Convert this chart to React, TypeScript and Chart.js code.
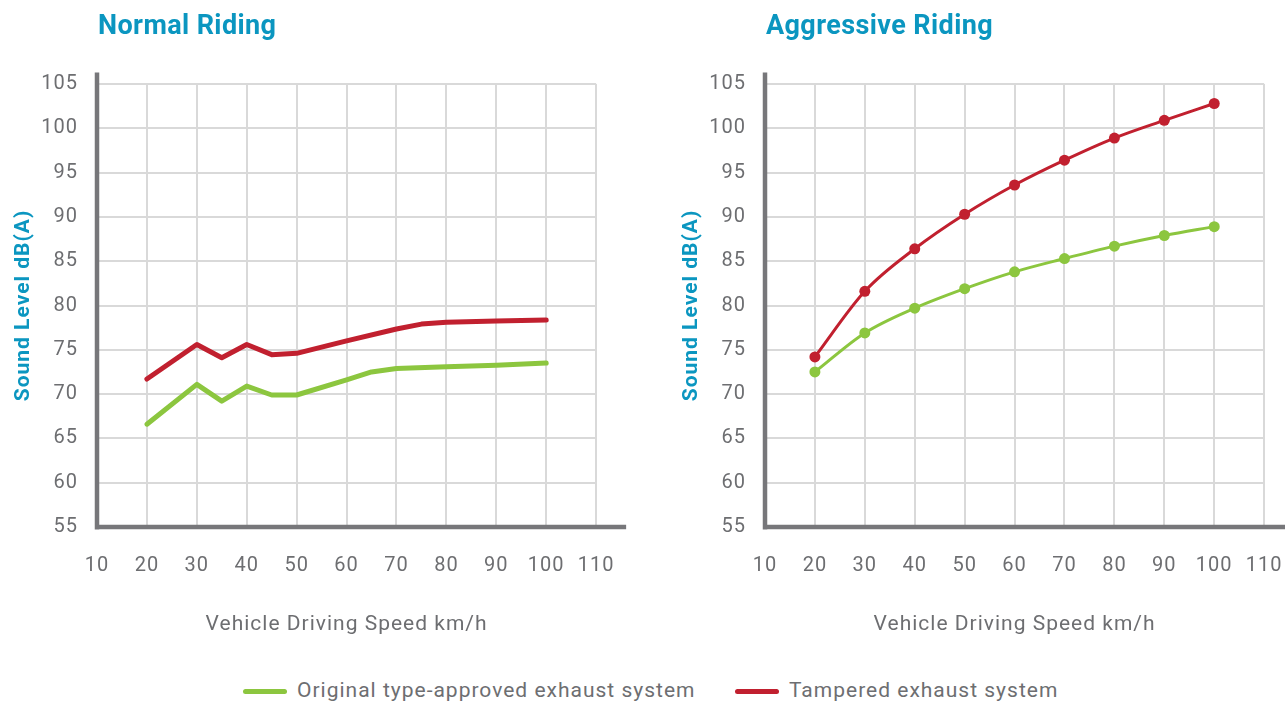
import React, { useEffect, useRef } from "react";
import { Chart, registerables } from "chart.js";

Chart.register(...registerables);

// ---- data ----
const speedMin = 10;
const speedMax = 110;
const speedStep = 10;
const levelMin = 55;
const levelMax = 105;
const levelStep = 5;

const seriesLabels = ["Original type-approved exhaust system", "Tampered exhaust system"];
const chartTitles = ["Normal Riding", "Aggressive Riding"];
const xAxisTitle = "Vehicle Driving Speed km/h";
const yAxisTitle = "Sound Level dB(A)";

const normalOriginalSpeeds = [20, 30, 35, 40, 45, 50, 60, 65, 70, 80, 90, 100];
const normalOriginalLevels = [66.6, 71.1, 69.2, 70.9, 69.9, 69.9, 71.6, 72.5, 72.9, 73.1, 73.25, 73.5];
const normalTamperedSpeeds = [20, 30, 35, 40, 45, 50, 60, 70, 75, 80, 90, 100];
const normalTamperedLevels = [71.7, 75.6, 74.1, 75.6, 74.45, 74.6, 76.0, 77.35, 77.9, 78.1, 78.25, 78.35];

const aggressiveSpeeds = [20, 30, 40, 50, 60, 70, 80, 90, 100];
const aggressiveOriginalLevels = [72.5, 76.9, 79.7, 81.9, 83.8, 85.3, 86.7, 87.9, 88.9];
const aggressiveTamperedLevels = [74.2, 81.6, 86.4, 90.3, 93.6, 96.4, 98.9, 100.9, 102.8];

// ---- styles ----
const GREEN = "#8cc63f";
const RED = "#c1202f";
const BLUE = "#0b96c0";
const GRAY = "#6d6e71";
const AXIS = "#77777a";
const GRID = "#d9d9d9";
const FONT = "Roboto, 'Open Sans', sans-serif";

const toPoints = (xs: number[], ys: number[]) => xs.map((x, i) => ({ x, y: ys[i] }));

const axisLinePlugin = {
  id: "axisLines",
  beforeDraw(chart: any) {
    (chart.ctx as any).letterSpacing = "1px";
  },
  beforeDatasetsDraw(chart: any) {
    const { ctx, chartArea } = chart;
    ctx.save();
    ctx.strokeStyle = AXIS;
    ctx.lineWidth = 4.5;
    ctx.lineCap = "butt";
    ctx.beginPath();
    ctx.moveTo(chartArea.left, chartArea.top - 11.5);
    ctx.lineTo(chartArea.left, chartArea.bottom + 2.5);
    ctx.moveTo(chartArea.left - 2.2, chartArea.bottom);
    ctx.lineTo(chartArea.right + 30, chartArea.bottom);
    ctx.stroke();
    ctx.restore();
  },
  afterDraw(chart: any) {
    (chart.ctx as any).letterSpacing = "0px";
  },
};

function makeOptions() {
  return {
    responsive: false,
    animation: false as const,
    layout: { padding: { top: 84, left: 0, right: 43, bottom: 13 } },
    plugins: { legend: { display: false }, tooltip: { enabled: false } },
    scales: {
      x: {
        type: "linear" as const,
        min: speedMin,
        max: speedMax,
        ticks: { stepSize: speedStep, padding: 27, color: GRAY, font: { family: FONT, size: 20 } },
        grid: { color: GRID, lineWidth: 2, drawTicks: false },
        border: { display: false },
        title: {
          display: true,
          text: xAxisTitle,
          color: GRAY,
          font: { family: FONT, size: 21 },
          padding: { top: 0, bottom: 10 },
        },
        afterFit: (s: any) => {
          s.height = 120;
        },
      },
      y: {
        type: "linear" as const,
        min: levelMin,
        max: levelMax,
        ticks: { stepSize: levelStep, padding: 19, color: GRAY, font: { family: FONT, size: 20 } },
        grid: { color: GRID, lineWidth: 2, drawTicks: false },
        border: { display: false },
        title: {
          display: true,
          text: yAxisTitle,
          color: BLUE,
          font: { family: FONT, size: 21, weight: "bold" as const },
          padding: { top: 11, bottom: 0 },
        },
        afterFit: (s: any) => {
          s.width = 97;
        },
      },
    },
  };
}

function ChartBox({ config, left }: { config: any; left: number }) {
  const ref = useRef<HTMLCanvasElement | null>(null);
  useEffect(() => {
    if (!ref.current) return;
    const chart = new Chart(ref.current, config);
    return () => chart.destroy();
  }, []);
  return (
    <canvas
      ref={ref}
      width={640}
      height={660}
      style={{ position: "absolute", left, top: 0, width: 640, height: 660 }}
    />
  );
}

const normalConfig = {
  type: "line",
  data: {
    datasets: [
      {
        label: seriesLabels[0],
        data: toPoints(normalOriginalSpeeds, normalOriginalLevels),
        borderColor: GREEN,
        borderWidth: 5,
        pointRadius: 0,
        tension: 0,
        borderJoinStyle: "round",
        borderCapStyle: "round",
      },
      {
        label: seriesLabels[1],
        data: toPoints(normalTamperedSpeeds, normalTamperedLevels),
        borderColor: RED,
        borderWidth: 5,
        pointRadius: 0,
        tension: 0,
        borderJoinStyle: "round",
        borderCapStyle: "round",
      },
    ],
  },
  options: makeOptions(),
  plugins: [axisLinePlugin],
};

const aggressiveConfig = {
  type: "line",
  data: {
    datasets: [
      {
        label: seriesLabels[0],
        data: toPoints(aggressiveSpeeds, aggressiveOriginalLevels),
        borderColor: GREEN,
        backgroundColor: GREEN,
        borderWidth: 3,
        pointRadius: 5.5,
        pointBorderWidth: 0,
        pointBackgroundColor: GREEN,
        cubicInterpolationMode: "monotone",
      },
      {
        label: seriesLabels[1],
        data: toPoints(aggressiveSpeeds, aggressiveTamperedLevels),
        borderColor: RED,
        backgroundColor: RED,
        borderWidth: 3,
        pointRadius: 5.5,
        pointBorderWidth: 0,
        pointBackgroundColor: RED,
        cubicInterpolationMode: "monotone",
      },
    ],
  },
  options: makeOptions(),
  plugins: [axisLinePlugin],
};

const titleStyle: React.CSSProperties = {
  position: "absolute",
  top: 12,
  margin: 0,
  fontFamily: FONT,
  fontWeight: 700,
  fontSize: 27,
  lineHeight: "27px",
  letterSpacing: "0.4px",
  color: BLUE,
  whiteSpace: "nowrap",
};

const legendText: React.CSSProperties = {
  position: "absolute",
  top: 680,
  fontFamily: FONT,
  fontSize: 21,
  lineHeight: "21px",
  letterSpacing: "1px",
  color: GRAY,
  whiteSpace: "nowrap",
};

const swatch = (color: string, left: number): React.CSSProperties => ({
  position: "absolute",
  left,
  top: 688.5,
  width: 44,
  height: 5,
  borderRadius: 3,
  background: color,
});

export default function App() {
  return (
    <div
      style={{
        position: "absolute",
        left: 0,
        top: 0,
        width: 1285,
        height: 706,
        overflow: "hidden",
        background: "#ffffff",
      }}
    >
      <ChartBox config={normalConfig} left={0} />
      <ChartBox config={aggressiveConfig} left={668} />
      <div style={{ ...titleStyle, left: 98 }}>{chartTitles[0]}</div>
      <div style={{ ...titleStyle, left: 766 }}>{chartTitles[1]}</div>
      <div style={swatch(GREEN, 243)} />
      <div style={{ ...legendText, left: 297 }}>{seriesLabels[0]}</div>
      <div style={swatch(RED, 735)} />
      <div style={{ ...legendText, left: 789 }}>{seriesLabels[1]}</div>
    </div>
  );
}
